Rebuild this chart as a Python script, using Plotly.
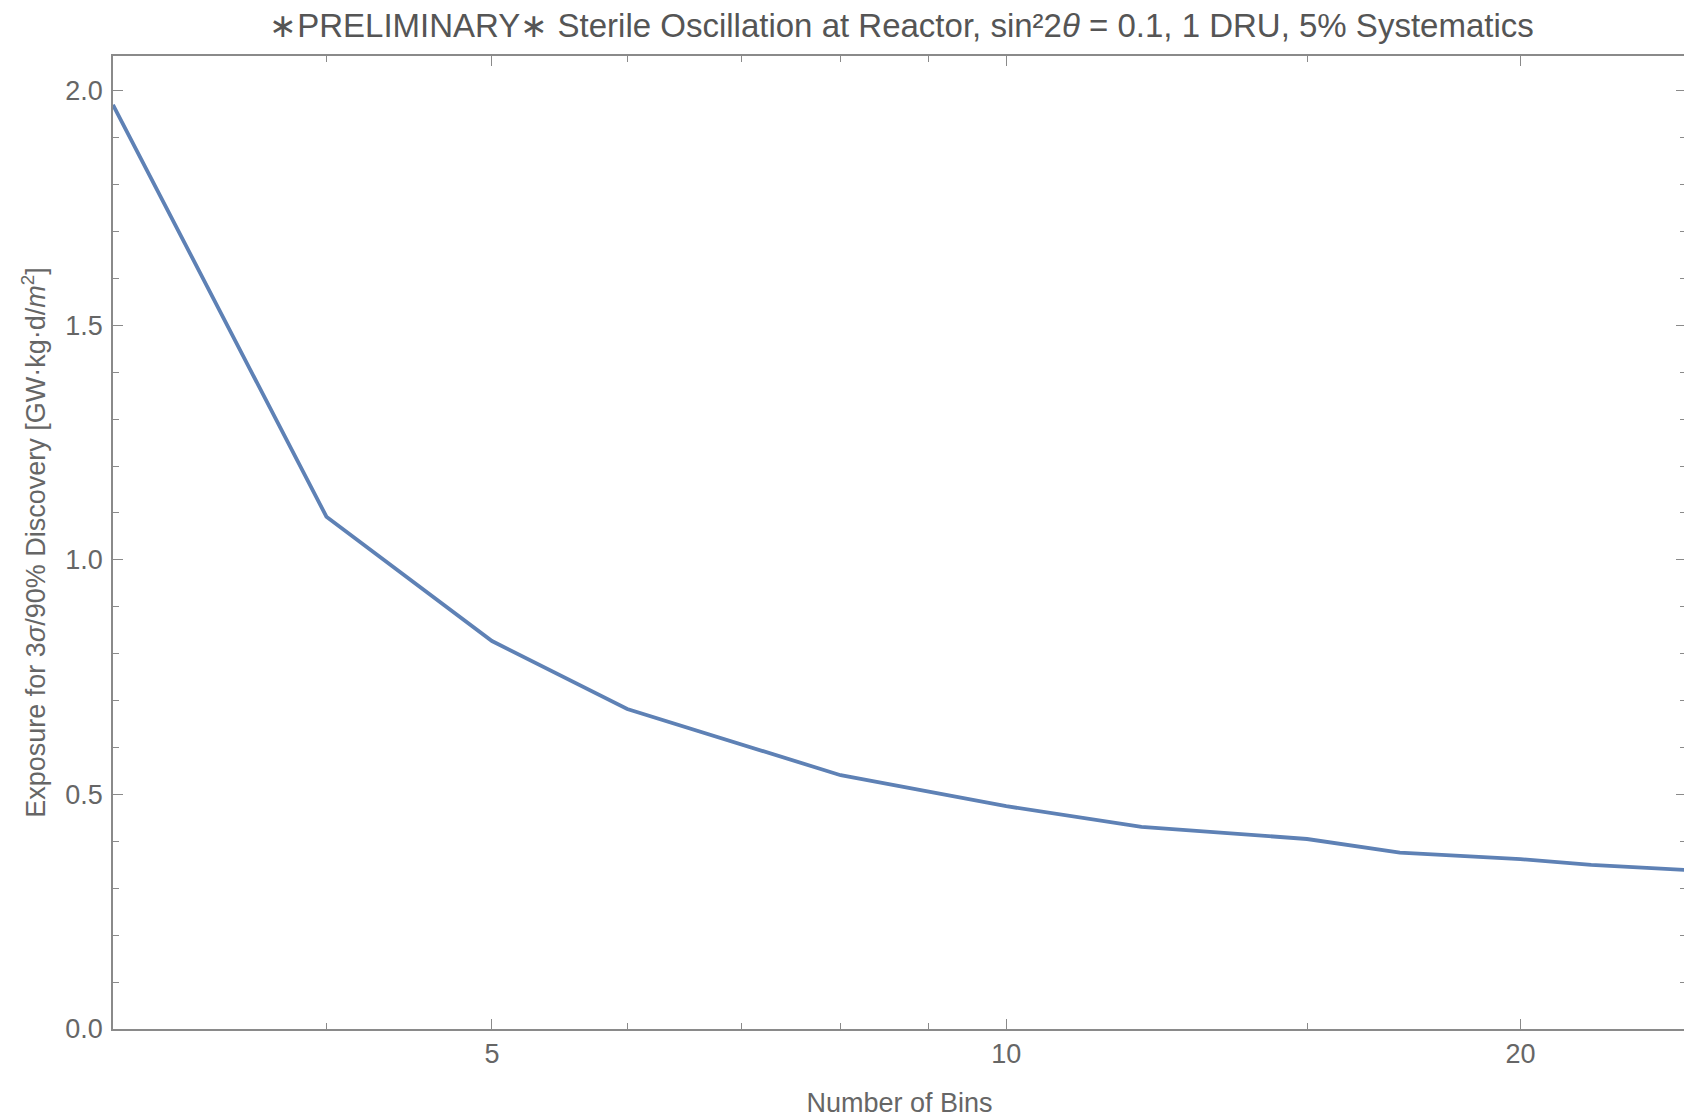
import plotly.graph_objects as go

bins = [3, 4, 5, 6, 8, 10, 12, 15, 17, 20, 22, 25]
exposure = [1.970, 1.092, 0.827, 0.682, 0.541, 0.475, 0.431, 0.405, 0.376, 0.362, 0.350, 0.339]

x_major = [5, 10, 20]
x_minor = [4, 6, 7, 8, 9, 15]
y_major = [0.0, 0.5, 1.0, 1.5, 2.0]
y_major_labels = ["0.0", "0.5", "1.0", "1.5", "2.0"]

axis_col = "#8a8a8a"
text_col = "#666666"
fam = "Liberation Sans, Arial, sans-serif"
XR = [0.47712, 1.39794]
YR = [0, 2.074]

fig = go.Figure()
fig.add_trace(go.Scatter(x=bins, y=exposure, mode="lines",
                         line=dict(color="#5E81B5", width=3.8), showlegend=False))
# invisible trace to anchor the mirror (top/right) axes
fig.add_trace(go.Scatter(x=[bins[0]], y=[exposure[0]], xaxis="x2", yaxis="y2",
                         mode="markers", marker=dict(opacity=0), hoverinfo="skip",
                         showlegend=False))

fig.update_layout(
    width=1692, height=1115,
    margin=dict(l=105, r=14, t=48, b=94),
    plot_bgcolor="white", paper_bgcolor="white",
    title=dict(text="∗PRELIMINARY∗ Sterile Oscillation at Reactor, sin²2<i>θ</i> = 0.1, 1 DRU, 5% Systematics",
               x=(1263 / 2 + 270 - 8) / 1692, xanchor="center", y=0.995, yanchor="top",
               font=dict(family=fam, size=33, color="#555555")),
    font=dict(family=fam, color=text_col),
)

common_x = dict(
    type="log", range=XR,
    tickmode="array", tickvals=x_major,
    ticks="inside", ticklen=10, tickwidth=1.2, tickcolor=axis_col,
    minor=dict(tickmode="array", tickvals=x_minor, ticks="inside", ticklen=6,
               tickwidth=1, tickcolor=axis_col, showgrid=False),
    showline=True, linecolor=axis_col, linewidth=1.5,
    showgrid=False, zeroline=False, automargin=False,
)
common_y = dict(
    range=YR,
    tickmode="array", tickvals=y_major,
    ticks="inside", ticklen=10, tickwidth=1.2, tickcolor=axis_col,
    minor=dict(dtick=0.1, tick0=0, ticks="inside", ticklen=6, tickwidth=1,
               tickcolor=axis_col, showgrid=False),
    showline=True, linecolor=axis_col, linewidth=1.5,
    showgrid=False, zeroline=False, automargin=False,
)

fig.update_layout(
    xaxis=dict(**common_x, ticktext=[str(v) for v in x_major],
               tickfont=dict(family=fam, size=27, color=text_col),
               ticklabelstandoff=0,
               title=dict(text="Number of Bins", font=dict(family=fam, size=27, color=text_col),
                          standoff=25)),
    yaxis=dict(**common_y, ticktext=y_major_labels,
               tickfont=dict(family=fam, size=27, color=text_col),
               ticklabelstandoff=3,
               title=dict(text="Exposure for 3<i>σ</i>/90% Discovery [GW·kg·d/<i>m</i><sup>2</sup>]",
                          font=dict(family=fam, size=27, color=text_col), standoff=12)),
    xaxis2=dict(**common_x, overlaying="x", side="top", anchor="y", showticklabels=False),
    yaxis2=dict(**common_y, overlaying="y", side="right", anchor="x", showticklabels=False),
)

fig.write_html("out.html")
